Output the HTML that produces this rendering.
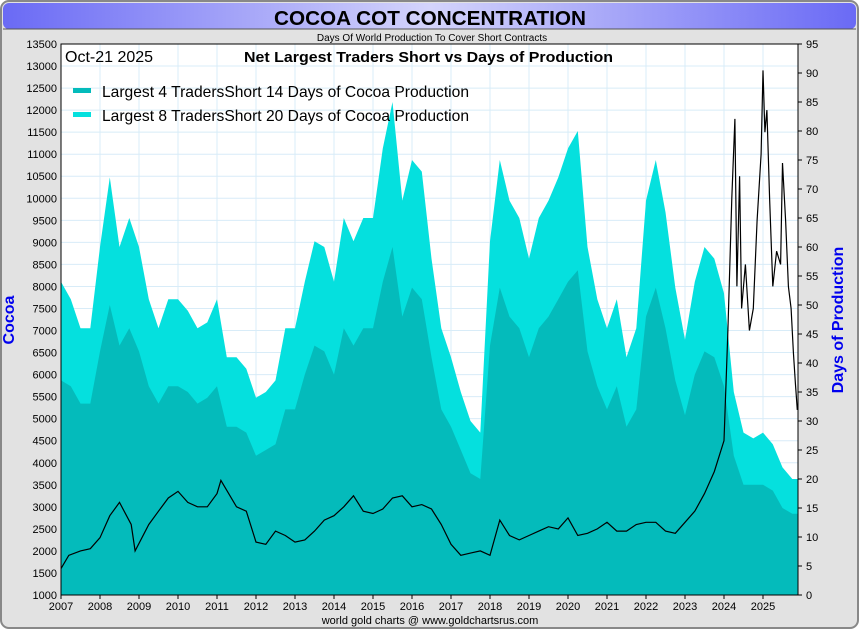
<!DOCTYPE html>
<html><head><meta charset="utf-8"><style>
body{margin:0;background:#fff;width:860px;height:630px;overflow:hidden;font-family:"Liberation Sans",sans-serif}
</style></head><body>
<svg id="chart" width="860" height="630" xmlns="http://www.w3.org/2000/svg">
<defs>
<linearGradient id="tg" x1="0" x2="1" y1="0" y2="0"><stop offset="0" stop-color="#6a6af5"/><stop offset="0.5" stop-color="#d4d4fb"/><stop offset="1" stop-color="#6a6af5"/></linearGradient>
</defs>
<rect x="1" y="1" width="857" height="627" rx="8" fill="#e2e2e2" stroke="#888" stroke-width="2"/>
<rect x="3" y="3" width="853" height="26" rx="6" fill="url(#tg)"/>
<line x1="3" y1="29" x2="856" y2="29" stroke="#555"/>
<text x="274" y="25" textLength="312" lengthAdjust="spacingAndGlyphs" font-size="20" font-weight="bold" fill="#000">COCOA COT CONCENTRATION</text>
<text x="432" y="41" text-anchor="middle" font-size="10" fill="#000">Days Of World Production To Cover Short Contracts</text>
<rect x="61" y="44" width="737" height="551" fill="#fff"/>
<g id="grid"></g>
<g id="areas"></g>
<g id="line"></g>
<rect x="61" y="44" width="737" height="551" fill="none" stroke="#000" stroke-width="1"/>
<g id="axes" font-size="11" fill="#000"></g>
<text x="65" y="62" font-size="16">Oct-21  2025</text>
<text x="244" y="62" textLength="369" lengthAdjust="spacingAndGlyphs" font-size="15" font-weight="bold">Net Largest Traders Short vs Days of Production</text>
<rect x="73" y="88" width="18" height="5" fill="#04bbbb"/>
<text x="102" y="97" textLength="367" lengthAdjust="spacingAndGlyphs" font-size="16">Largest 4 TradersShort 14 Days of Cocoa Production</text>
<rect x="73" y="112" width="18" height="5" fill="#05e0de"/>
<text x="102" y="121" textLength="367" lengthAdjust="spacingAndGlyphs" font-size="16">Largest 8 TradersShort 20 Days of Cocoa Production</text>
<text x="14" y="320" font-size="16" font-weight="bold" fill="#0000ee" transform="rotate(-90 14 320)" text-anchor="middle">Cocoa</text>
<text x="843" y="320" font-size="16" font-weight="bold" fill="#0000ee" transform="rotate(-90 843 320)" text-anchor="middle">Days of Production</text>
<text x="430" y="624" text-anchor="middle" font-size="11">world gold charts @ www.goldchartsrus.com</text>
</svg>
<script>
const yearTicks=[2007,2008,2009,2010,2011,2012,2013,2014,2015,2016,2017,2018,2019,2020,2021,2022,2023,2024,2025];
const priceTicks=[1000,1500,2000,2500,3000,3500,4000,4500,5000,5500,6000,6500,7000,7500,8000,8500,9000,9500,10000,10500,11000,11500,12000,12500,13000,13500];
const dayTicks=[0,5,10,15,20,25,30,35,40,45,50,55,60,65,70,75,80,85,90,95];
const areaYears=[2007,2007.25,2007.5,2007.75,2008,2008.25,2008.5,2008.75,2009,2009.25,2009.5,2009.75,2010,2010.25,2010.5,2010.75,2011,2011.25,2011.5,2011.75,2012,2012.25,2012.5,2012.75,2013,2013.25,2013.5,2013.75,2014,2014.25,2014.5,2014.75,2015,2015.25,2015.5,2015.75,2016,2016.25,2016.5,2016.75,2017,2017.25,2017.5,2017.75,2018,2018.25,2018.5,2018.75,2019,2019.25,2019.5,2019.75,2020,2020.25,2020.5,2020.75,2021,2021.25,2021.5,2021.75,2022,2022.25,2022.5,2022.75,2023,2023.25,2023.5,2023.75,2024,2024.25,2024.5,2024.75,2025,2025.25,2025.5,2025.75,2025.9];
const largest8Days=[54,51,46,46,60,72,60,65,60,51,46,51,51,49,46,47,51,41,41,39,34,35,37,46,46,54,61,60,54,65,61,65,65,77,85,68,75,73,58,46,41,35,30,28,61,75,68,65,58,65,68,72,77,80,60,51,46,51,41,46,68,75,66,53,44,54,60,58,52,35,28,27,28,26,22,20,20];
const largest4Days=[37,36,33,33,42,50,43,46,42,36,33,36,36,35,33,34,36,29,29,28,24,25,26,32,32,38,43,42,38,46,43,46,46,54,60,48,53,51,41,32,29,25,21,20,43,53,48,46,41,46,48,51,54,56,42,36,32,36,29,32,48,53,46,37,31,38,42,41,36,24,19,19,19,18,15,14,14];
const priceYears=[2007,2007.2,2007.5,2007.75,2008,2008.25,2008.5,2008.8,2008.9,2009.25,2009.5,2009.75,2010,2010.25,2010.5,2010.75,2011,2011.1,2011.5,2011.75,2012,2012.25,2012.5,2012.75,2013,2013.25,2013.5,2013.75,2014,2014.25,2014.5,2014.75,2015,2015.25,2015.5,2015.75,2016,2016.25,2016.5,2016.75,2017,2017.25,2017.5,2017.75,2018,2018.25,2018.5,2018.75,2019,2019.25,2019.5,2019.75,2020,2020.25,2020.5,2020.75,2021,2021.25,2021.5,2021.75,2022,2022.25,2022.5,2022.75,2023,2023.25,2023.5,2023.75,2024,2024.1,2024.2,2024.28,2024.33,2024.4,2024.45,2024.55,2024.65,2024.75,2024.85,2024.95,2025,2025.05,2025.1,2025.17,2025.25,2025.35,2025.45,2025.5,2025.58,2025.65,2025.72,2025.78,2025.83,2025.88];
const priceValues=[1600,1900,2000,2050,2300,2800,3100,2600,2000,2600,2900,3200,3350,3100,3000,3000,3300,3600,3000,2900,2200,2150,2450,2350,2200,2250,2450,2700,2800,3000,3250,2900,2850,2950,3200,3250,3000,3050,2950,2600,2150,1900,1950,2000,1900,2700,2350,2250,2350,2450,2550,2500,2750,2350,2400,2500,2650,2450,2450,2600,2650,2650,2450,2400,2650,2900,3300,3800,4500,7000,10000,11800,8000,10500,7500,8500,7000,7500,9500,11000,12900,11500,12000,10000,8000,8800,8500,10800,9500,8000,7500,6500,5800,5200];
const X0=61,X1=798,Y0=44,Y1=595;
const xS=y=>X0+(y-2007)*39;
const yP=p=>Y1-(p-1000)*(Y1-Y0)/12500;
const yD=d=>Y1-d*(Y1-Y0)/95;
const NS='http://www.w3.org/2000/svg';
function mk(tag,attrs,parent){const e=document.createElementNS(NS,tag);for(const k in attrs)e.setAttribute(k,attrs[k]);parent.appendChild(e);return e;}
const grid=document.getElementById('grid'),axes=document.getElementById('axes');
priceTicks.forEach(p=>{
  const l=mk('line',{x1:X0,x2:X1,y1:yP(p),y2:yP(p),stroke:'#d8ecf8'},grid);
  
  
  const t=mk('text',{x:X0-4,y:yP(p)+4,'text-anchor':'end'},axes);t.textContent=p;
  
  
});
dayTicks.forEach(d=>{
  mk('line',{x1:X1,x2:X1+4,y1:yD(d),y2:yD(d),stroke:'#000'},axes);
  const t=mk('text',{x:X1+8,y:yD(d)+4},axes);t.textContent=d;
  
  
});
yearTicks.forEach(y=>{
  const l=mk('line',{x1:xS(y),x2:xS(y),y1:Y0,y2:Y1,stroke:'#d8ecf8'},grid);
  
  
  mk('line',{x1:xS(y),x2:xS(y),y1:Y1,y2:Y1+4,stroke:'#000'},axes);
  const t=mk('text',{x:xS(y),y:Y1+15,'text-anchor':'middle'},axes);t.textContent=y;
  
  
});
const areas=document.getElementById('areas');
function area(vals,color,name){
  let d='M'+xS(areaYears[0])+','+Y1;
  vals.forEach((v,i)=>{d+=' L'+xS(areaYears[i]).toFixed(1)+','+yD(v).toFixed(1);});
  d+=' L'+xS(areaYears[areaYears.length-1])+','+Y1+' Z';
  const p=mk('path',{d:d,fill:color},areas);
  
  
}
area(largest8Days,'#05e0de','largest-8-area');
area(largest4Days,'#04bbbb','largest-4-area');
let ld='';
priceValues.forEach((v,i)=>{ld+=(i?' L':'M')+xS(priceYears[i]).toFixed(1)+','+yP(v).toFixed(1);});
const pl=mk('path',{d:ld,fill:'none',stroke:'#000','stroke-width':1.2},document.getElementById('line'));


</script>
</body></html>
